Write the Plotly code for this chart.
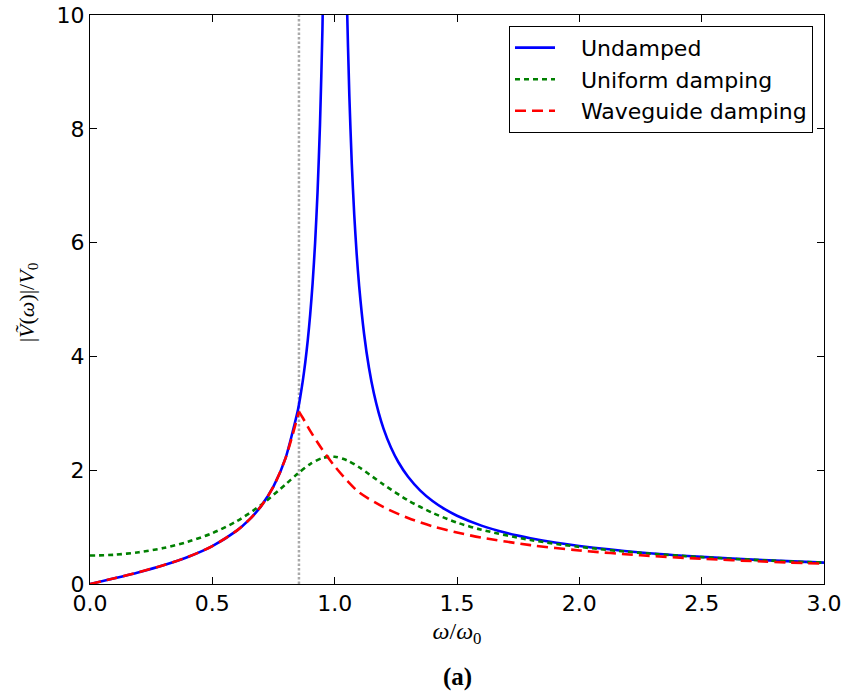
import plotly.graph_objects as go

# ---- data ----
cutoff = [0.854, 0.854]
cutoff_y = [0, 10]

w_undamped = [0, 0.1, 0.2, 0.3, 0.4, 0.5, 0.6, 0.65, 0.7, 0.75, 0.8, 0.85, 0.86, 0.87, 0.88, 0.89, 0.9, 0.91,
              0.92, 0.93, 0.94, 0.95, 0.96,
              None,
              1.04, 1.05, 1.06, 1.07, 1.08, 1.09, 1.1, 1.12, 1.14, 1.16, 1.18, 1.2, 1.23, 1.26, 1.3, 1.35, 1.4,
              1.45, 1.5, 1.6, 1.7, 1.8, 1.9, 2.0, 2.25, 2.5, 2.75, 3.0]
v_undamped = [0, 0.101, 0.208, 0.330, 0.476, 0.667, 0.938, 1.126, 1.373, 1.714, 2.222, 3.063, 3.303, 3.579, 3.901,
              4.281, 4.737, 5.294, 5.99, 6.884, 8.076, 9.744, 12.24,
              None,
              12.75, 10.24, 8.576, 7.384, 6.49, 5.795, 5.238, 4.403, 3.805, 3.356, 3.007, 2.727, 2.398, 2.144,
              1.884, 1.641, 1.458, 1.315, 1.2, 1.026, 0.899, 0.804, 0.728, 0.667, 0.554, 0.476, 0.419, 0.375]

w_uniform = [0, 0.1, 0.2, 0.3, 0.4, 0.5, 0.6, 0.7, 0.8, 0.85, 0.9, 0.95, 1.0, 1.05, 1.1, 1.2, 1.3, 1.4, 1.5, 1.6,
             1.8, 2.0, 2.25, 2.5, 2.75, 3.0]
v_uniform = [0.5, 0.514, 0.558, 0.632, 0.742, 0.894, 1.105, 1.391, 1.753, 1.943, 2.108, 2.214, 2.236, 2.174, 2.052,
             1.747, 1.469, 1.251, 1.08, 0.953, 0.774, 0.652, 0.547, 0.472, 0.417, 0.374]

w_wg_low = [0, 0.1, 0.2, 0.3, 0.4, 0.5, 0.6, 0.65, 0.7, 0.75, 0.8, 0.854]
v_wg_low = [0, 0.101, 0.208, 0.330, 0.476, 0.667, 0.938, 1.126, 1.373, 1.714, 2.222, 3.03]
w_wg_high = [0.854, 0.87, 0.9, 0.95, 1.0, 1.05, 1.1, 1.2, 1.3, 1.4, 1.5, 1.6, 1.8, 2.0, 2.25, 2.5, 2.75, 3.0]
v_wg_high = [3.03, 2.918, 2.69, 2.36, 2.07, 1.82, 1.61, 1.35, 1.16, 1.015, 0.905, 0.815, 0.683, 0.59,
             0.505, 0.443, 0.395, 0.356]

x_ticks = [0.0, 0.5, 1.0, 1.5, 2.0, 2.5, 3.0]
y_ticks = [0, 2, 4, 6, 8, 10]

LW = 2.6
fig = go.Figure()
fig.add_trace(go.Scatter(x=cutoff, y=cutoff_y, mode="lines", showlegend=False, hoverinfo="skip",
                         line=dict(color="#aaaaaa", width=2.5, dash="2.5px,2px")))
fig.add_trace(go.Scatter(x=w_undamped, y=v_undamped, mode="lines", name="   Undamped", connectgaps=False,
                         line=dict(color="#0000ff", width=LW, shape="spline", smoothing=0.6)))
fig.add_trace(go.Scatter(x=w_uniform, y=v_uniform, mode="lines", name="   Uniform damping",
                         line=dict(color="#008000", width=LW, dash="5px,4px", shape="spline", smoothing=0.8)))
fig.add_trace(go.Scatter(x=w_wg_low, y=v_wg_low, mode="lines", name="   Waveguide damping", legendgroup="wg",
                         line=dict(color="#ff0000", width=LW, dash="11px,6px", shape="spline", smoothing=0.8)))
fig.add_trace(go.Scatter(x=w_wg_high, y=v_wg_high, mode="lines", name="   Waveguide damping", legendgroup="wg",
                         showlegend=False,
                         line=dict(color="#ff0000", width=LW, dash="11px,6px", shape="spline", smoothing=0.8)))

axis_common = dict(showline=True, linecolor="black", linewidth=1, mirror="allticks", ticks="inside",
                   ticklen=7, tickwidth=1, tickcolor="black", showgrid=False, zeroline=False, automargin=False,
                   tickfont=dict(family="DejaVu Sans", size=22, color="black"))

fig.update_xaxes(range=[0, 3], tickvals=x_ticks, ticktext=[f"{v:.1f}" for v in x_ticks],
                 title=dict(text="<i>ω</i>/<i>ω</i><sub>0</sub>", font=dict(family="Liberation Serif", size=24, color="black"),
                            standoff=6),
                 **axis_common)
fig.update_yaxes(range=[0, 10], tickvals=y_ticks, ticktext=[str(v) for v in y_ticks], **axis_common)

fig.update_layout(
    width=852, height=694,
    margin=dict(l=90, r=28, t=15, b=110, autoexpand=False),
    paper_bgcolor="white", plot_bgcolor="white",
    legend=dict(x=0.985, y=0.981, xanchor="right", yanchor="top", bordercolor="black", borderwidth=1,
                bgcolor="white", font=dict(family="DejaVu Sans", size=22, color="black"),
                tracegroupgap=0, itemwidth=40),
    annotations=[
        dict(text="<b>(a)</b>", x=0.5, y=-0.163, xref="paper", yref="paper", showarrow=False,
             xanchor="center", yanchor="middle",
             font=dict(family="Liberation Serif", size=25, color="black")),
        dict(text="|<i>V\u0303</i>(<i>ω</i>)|/<i>V</i><sub>0</sub>", x=0, y=0.495, xref="paper", yref="paper",
             xshift=-62, showarrow=False, textangle=-90, xanchor="center", yanchor="middle",
             font=dict(family="Liberation Serif", size=22, color="black")),
    ],
)

fig.write_html("out.html")
